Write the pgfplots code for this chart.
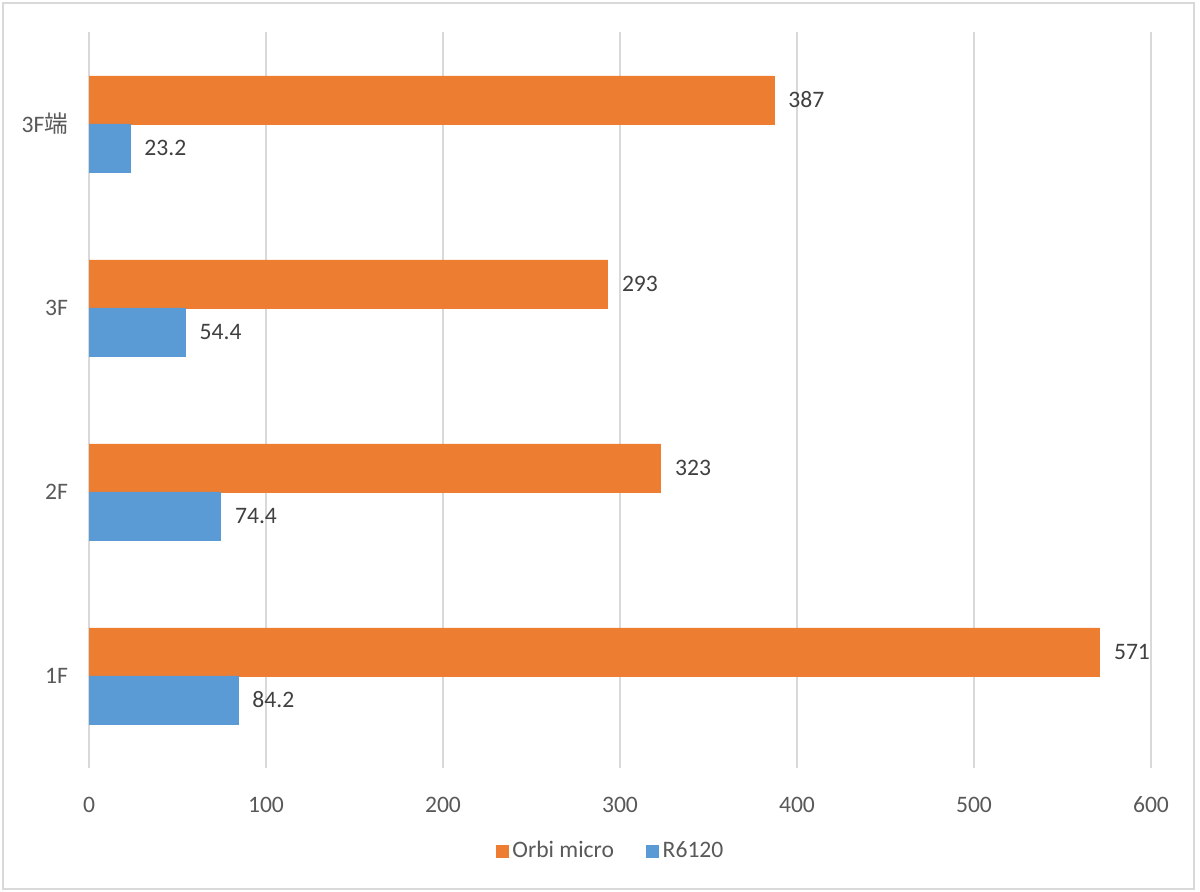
\documentclass[border=0pt]{standalone}
\usepackage{fontspec}
\setmainfont{Carlito}
\newfontfamily\cjk{Noto Sans CJK JP}
\usepackage{pgfplots}
\pgfplotsset{compat=1.18}

\definecolor{orbi}{HTML}{ED7D31}
\definecolor{rsix}{HTML}{5B9BD5}
\definecolor{gridc}{HTML}{D9D9D9}
\definecolor{tickc}{HTML}{595959}
\definecolor{labc}{HTML}{404040}

\begin{document}
\begin{tikzpicture}
\useasboundingbox (0,0) rectangle (600bp,446bp);
\draw[gridc, line width=0.75bp] (1.5bp,1.5bp) rectangle (597bp,444.5bp);
\begin{axis}[
    at={(44.5bp,62bp)}, anchor=south west,
    scale only axis,
    width=531bp, height=368bp,
    xbar,
    bar width=24bp,
    xmin=0, xmax=600,
    ymin=-0.5, ymax=3.5,
    xtick={0,100,...,600},
    ytick={0,1,2,3},
    yticklabels={1F,2F,3F,3F{\cjk 端}},
    axis line style={draw=none},
    major tick length=0pt,
    xmajorgrids,
    grid style={gridc, line width=0.75bp},
    font=\fontsize{11.8bp}{14bp}\selectfont,
    /pgf/number format/assume math mode=true,
    ticklabel style={text=tickc},
    xticklabel style={yshift=-11bp},
    yticklabel style={xshift=-7bp},
    nodes near coords,
    nodes near coords style={anchor=west, inner sep=0pt, xshift=7bp, text=labc},
    legend style={at={(0.492,-0.113)}, anchor=center, draw=none,
        legend columns=2, text=tickc,
        /tikz/every even column/.append style={column sep=14bp}},
    legend image code/.code={
        \fill[#1] (0bp,-3bp) rectangle (6bp,3bp);
    },
]
\addplot[fill=orbi, draw=orbi, bar shift=12bp] coordinates {
    (571,0) (323,1) (293,2) (387,3)
};
\addplot[fill=rsix, draw=rsix, bar shift=-12bp] coordinates {
    (84.2,0) (74.4,1) (54.4,2) (23.2,3)
};
\legend{Orbi micro, R6120}
\end{axis}
\end{tikzpicture}
\end{document}
